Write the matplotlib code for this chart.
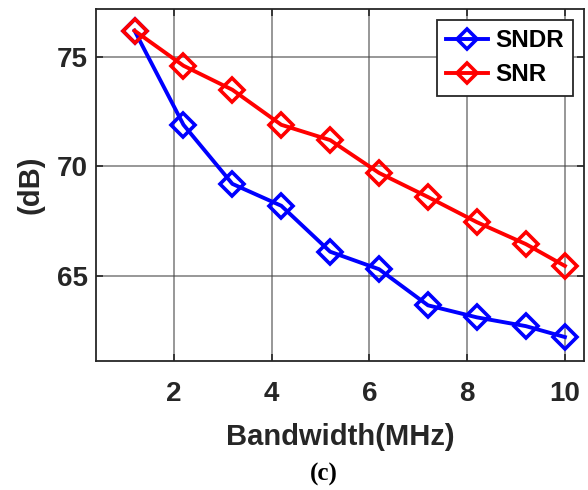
import matplotlib
matplotlib.use("Agg")
import matplotlib.pyplot as plt

# Bandwidth sweep (MHz) and measured performance (dB)
bandwidth = [1.2, 2.2, 3.2, 4.2, 5.2, 6.2, 7.2, 8.2, 9.2, 10.0]
sndr = [76.2, 71.9, 69.2, 68.2, 66.1, 65.3, 63.65, 63.1, 62.7, 62.2]
snr = [76.2, 74.6, 73.5, 71.9, 71.2, 69.7, 68.6, 67.45, 66.45, 65.45]

x_ticks = [2, 4, 6, 8, 10]
y_ticks = [65, 70, 75]

plt.rcParams["font.family"] = ["Liberation Sans", "DejaVu Sans"]
plt.rcParams["font.weight"] = "bold"

fig = plt.figure(figsize=(5.88, 4.9), dpi=100)
ax = fig.add_axes([0.164, 0.263, 0.830, 0.719])

dark = "#262626"
ax.plot(bandwidth, sndr, color="#0000ff", lw=2.8, marker="D", ms=12,
        mfc="none", mec="#0000ff", mew=2.6, label="SNDR", zorder=3)
ax.plot(bandwidth, snr, color="#ff0000", lw=2.8, marker="D", ms=12,
        mfc="none", mec="#ff0000", mew=2.6, label="SNR", zorder=3)

ax.set_xlim(0.42, 10.4)
ax.set_ylim(61.1, 77.2)
ax.set_xticks(x_ticks)
ax.set_yticks(y_ticks)
ax.grid(True, color="#444444", lw=1.3, alpha=0.6)
ax.set_axisbelow(True)

ax.tick_params(direction="in", length=5, width=1.2, colors=dark,
               labelsize=20, top=True, right=True)
ax.tick_params(axis="x", pad=14)
ax.tick_params(axis="y", pad=6)
for lab in ax.get_xticklabels() + ax.get_yticklabels():
    lab.set_fontweight("bold")
for sp in ax.spines.values():
    sp.set_color(dark)
    sp.set_linewidth(1.3)

ax.set_xlabel("Bandwidth(MHz)", fontsize=21, fontweight="bold", color=dark,
              labelpad=12)
ax.set_ylabel("(dB)", fontsize=21, fontweight="bold", color=dark, labelpad=9)

leg = ax.legend(loc="upper right", prop={"weight": "bold", "size": 17.5},
                handlelength=1.7, handletextpad=0.3, borderpad=0.4,
                labelspacing=0.45, borderaxespad=0, fancybox=False,
                framealpha=1, edgecolor=dark,
                bbox_to_anchor=(0.977, 0.969))
leg.get_frame().set_linewidth(1.3)
for h in leg.legend_handles:
    h.set_markersize(10)

fig.text(0.551, 0.031, "(c)", fontsize=18, fontweight="bold",
         family="Liberation Serif", ha="center", va="center", color="black")

fig.savefig("out.png", dpi=100)
